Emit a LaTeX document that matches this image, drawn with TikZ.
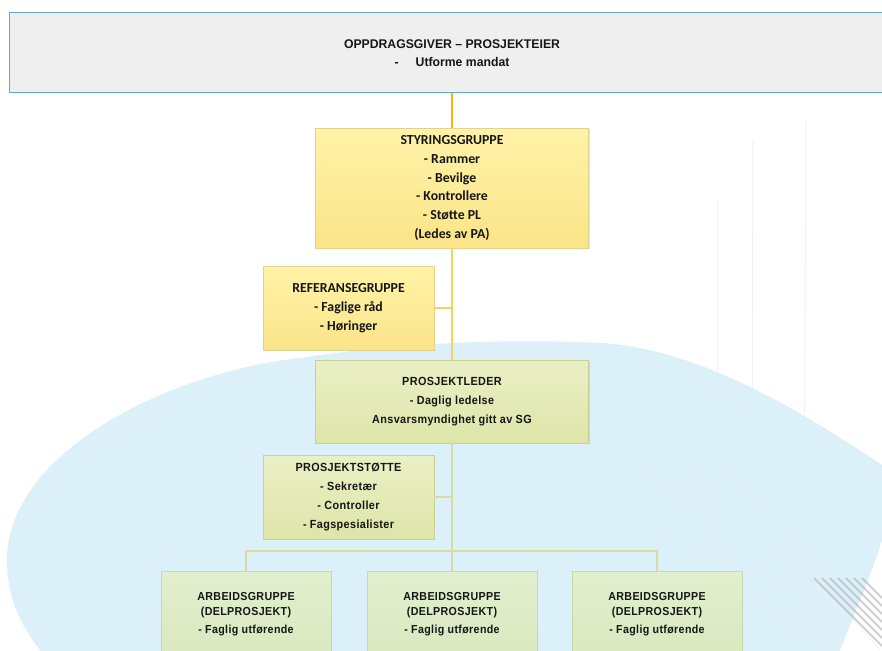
\documentclass[tikz,border=0pt]{standalone}
\usepackage{fontspec}
\setmainfont{Liberation Sans}
\newfontfamily\headfont{Liberation Sans}[FakeStretch=0.97]
\newfontfamily\calfont{Carlito}
\newfontfamily\grfont{Liberation Sans}[FakeStretch=0.92,LetterSpace=3]
\usetikzlibrary{calc,shadows}

\definecolor{ownerfill}{HTML}{EFEFEF}
\definecolor{ownerline}{HTML}{62A9CE}
\definecolor{skyblue}{HTML}{DCF0FA}
\definecolor{linkgold}{HTML}{F5B800}
\definecolor{paleyellowline}{HTML}{F0D565}
\definecolor{palegreenline}{HTML}{D8DCA0}
\definecolor{ytop}{HTML}{FFF3A8}
\definecolor{ybot}{HTML}{FBE488}
\definecolor{yedge}{HTML}{E3D38E}
\definecolor{gtop}{HTML}{EAF0C6}
\definecolor{gbot}{HTML}{DDE5A8}
\definecolor{gedge}{HTML}{C9D091}
\definecolor{atop}{HTML}{E2EFCD}
\definecolor{abot}{HTML}{DAE8C0}
\definecolor{aedge}{HTML}{C8D8A6}
\definecolor{txt}{HTML}{161616}
\definecolor{streak}{HTML}{F2F2F2}

\tikzset{
  softshadow/.style={drop shadow={shadow xshift=1pt, shadow yshift=-1.2pt,
    opacity=0.22, fill=gray}},
  ownerbox/.style={draw=ownerline, line width=1.4pt, fill=ownerfill, inner sep=0pt},
  yellowbox/.style={softshadow, draw=yedge, line width=0.8pt, top color=ytop,
    bottom color=ybot, align=center, text=txt, inner sep=0pt,
    font=\calfont\bfseries\fontsize{13.8}{18.8}\selectfont},
  greenbox/.style={softshadow, draw=gedge, line width=0.8pt, top color=gtop,
    bottom color=gbot, align=center, text=txt, inner sep=0pt,
    font=\grfont\bfseries\fontsize{11.8}{18.8}\selectfont},
  workbox/.style={softshadow, draw=aedge, line width=0.8pt, top color=atop,
    bottom color=abot, align=center, text=txt, inner sep=0pt,
    minimum width=170pt, minimum height=86pt, anchor=north,
    font=\grfont\bfseries\fontsize{11.6}{14.5}\selectfont},
  goldlink/.style={draw=linkgold, line width=2pt},
  yellowlink/.style={draw=paleyellowline, line width=1.3pt},
  greenlink/.style={draw=palegreenline, line width=1.3pt},
}

\begin{document}
\begin{tikzpicture}[x=1pt,y=-1pt]
\useasboundingbox (0,0) rectangle (882,650);
\clip (0,0) rectangle (882,650);
\fill[white] (0,0) rectangle (882,650);

% faint vertical streaks in the background
\draw[streak, line width=1pt] (717,200) -- (717,460);
\draw[streak, line width=1pt] (753,140) -- (752,475);
\draw[streak, line width=1pt] (806,120) -- (804,495);

% large pale-blue backdrop
\fill[skyblue] (50,662)
  .. controls (22,630) and (7,600) .. (7,560)
  .. controls (7,452) and (170,372) .. (300,358)
  .. controls (410,341) and (520,339) .. (600,343)
  .. controls (700,348) and (807,415) .. (882,465)
  .. controls (905,490) and (885,540) .. (835,662)
  -- cycle;

% faint diagonal lines over the lower right
\foreach \s in {0,40,80}
  \draw[white!85!gray, line width=0.8pt, opacity=0.6] (640+\s,470) -- (800+\s,650);

% grey diagonal streaks in the lower right corner
\foreach \s in {0,8,16,24,32,40,48}
  \draw[gray!60, line width=1.8pt, opacity=0.6] (814+\s,578) -- (882,646-\s);

% owner banner
\node[ownerbox, minimum width=886pt, minimum height=80pt, anchor=north west]
  (owner) at (9,12) {};
\node[font=\headfont\bfseries\fontsize{12.6}{17.7}\selectfont, text=txt, align=center]
  (ownertext) at (452,53)
  {OPPDRAGSGIVER – PROSJEKTEIER\\ -\hspace{1.35em}Utforme mandat};

% boxes
\node[yellowbox, minimum width=273pt, minimum height=120pt] (sg) at (452,188)
  {STYRINGSGRUPPE\\- Rammer\\- Bevilge\\- Kontrollere\\- Støtte PL\\(Ledes av PA)};
\node[yellowbox, minimum width=171pt, minimum height=84pt] (ref) at (348.5,308)
  {REFERANSEGRUPPE\\- Faglige råd\\- Høringer};
\node[greenbox, minimum width=273pt, minimum height=83pt] (pl) at (452,401.5)
  {PROSJEKTLEDER\\- Daglig ledelse\\Ansvarsmyndighet gitt av SG};
\node[greenbox, minimum width=171pt, minimum height=84pt] (ps) at (348.5,497)
  {PROSJEKTSTØTTE\\- Sekretær\\- Controller\\- Fagspesialister};
\node[workbox] (ag1) at (246,571)
  {ARBEIDSGRUPPE\\(DELPROSJEKT)\\[3.5pt]- Faglig utførende};
\node[workbox] (ag2) at (452,571)
  {ARBEIDSGRUPPE\\(DELPROSJEKT)\\[3.5pt]- Faglig utførende};
\node[workbox] (ag3) at (657,571)
  {ARBEIDSGRUPPE\\(DELPROSJEKT)\\[3.5pt]- Faglig utførende};

% connectors
\draw[goldlink] (owner.south -| sg.north) -- (sg.north);
\draw[yellowlink] (sg.south) -- (pl.north);
\draw[yellowlink] (ref.east) -- (ref.east -| sg.south);
\coordinate (bus) at ($(pl.south)+(0,108)$);
\draw[greenlink] (pl.south) -- (bus);
\draw[greenlink] (ps.east) -- (ps.east -| pl.south);
\draw[greenlink] (ag1.north) -- ++(0,-20) -| (ag3.north);
\draw[greenlink] (bus) -- (ag2.north);
\end{tikzpicture}
\end{document}
